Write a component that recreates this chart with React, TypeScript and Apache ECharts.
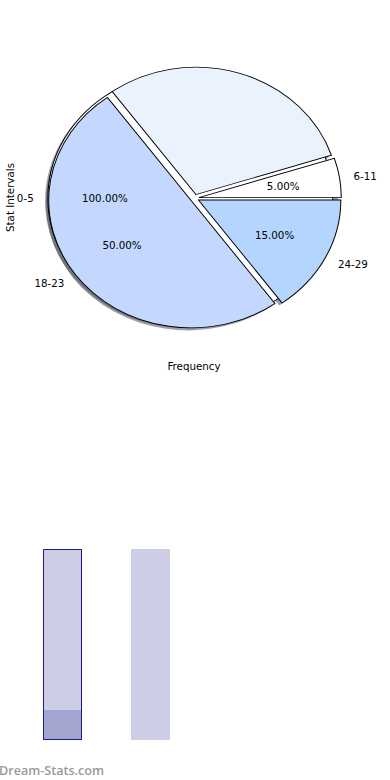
import React, { useEffect, useRef } from 'react';
import * as echarts from 'echarts';

// ---- data ----
const baseCategories = ['0-5'];
const baseValues = [100];
const pieCategories = ['6-11', '12-17', '18-23', '24-29'];
const pieValues = [5, 30, 50, 15];
const pieShowLabel = [true, false, true, true];

const barCategories = ['A', 'B'];
const barLower = [16, 0];
const barUpper = [84, 100];
const barOutline: (number | null)[] = [100, null];

const xAxisLabel = 'Frequency';
const yAxisLabel = 'Stat Intervals';
const watermark = 'Dream-Stats.com';

// ---- styles / geometry ----
const baseColors = ['#ffffff'];
const sliceColors = ['#ffffff', '#eaf2fe', '#c4d8ff', '#b4d5fe'];
const D2R = Math.PI / 180;
const CX = 194.6;
const CY = 198.2;
const RX = 142.4;
const RY = 127.4;
const EXPLODE = 0.03;
const LABEL_DIST = 1.1;
const PCT_DIST = 0.6;
const SHADOW_OFF = 0.02;
const FONT = '10.3px "DejaVu Sans"';

type Wedge = { label: string; pct: string; t1: number; t2: number; color: string };

function buildWedges(labels: string[], values: number[], colors: string[], show: boolean[]): Wedge[] {
  const total = values.reduce((a, b) => a + b, 0);
  let acc = 0;
  return values.map((v, i) => {
    const t1 = (acc / total) * 360;
    acc += v;
    const t2 = (acc / total) * 360;
    return {
      label: show[i] ? labels[i] : '',
      pct: show[i] ? ((v / total) * 100).toFixed(2) + '%' : '',
      t1,
      t2,
      color: colors[i],
    };
  });
}

const wedges: Wedge[] = [
  ...buildWedges(baseCategories, baseValues, baseColors, [true]),
  ...buildWedges(pieCategories, pieValues, sliceColors, pieShowLabel),
];

function shade(hex: string): string {
  const h = hex.replace('#', '');
  const r = parseInt(h.slice(0, 2), 16) * 0.3;
  const g = parseInt(h.slice(2, 4), 16) * 0.3;
  const b = parseInt(h.slice(4, 6), 16) * 0.3;
  return `rgba(${r.toFixed(0)},${g.toFixed(0)},${b.toFixed(0)},0.5)`;
}

function wedgeEl(w: Wedge, ox: number, oy: number, style: any) {
  const m = ((w.t1 + w.t2) / 2) * D2R;
  const dx = EXPLODE * RX * Math.cos(m) + ox;
  const dy = -EXPLODE * RY * Math.sin(m) + oy;
  return {
    type: 'group',
    x: CX + dx,
    y: CY + dy,
    scaleX: RX / RY,
    scaleY: 1,
    children: [
      {
        type: 'sector',
        shape: {
          cx: 0,
          cy: 0,
          r: RY,
          r0: 0,
          startAngle: -w.t2 * D2R,
          endAngle: -w.t1 * D2R,
          clockwise: true,
        },
        style,
      },
    ],
  };
}

export default function App() {
  const ref = useRef<HTMLDivElement>(null);
  useEffect(() => {
    if (!ref.current) return;
    const chart = echarts.init(ref.current, undefined, { renderer: 'svg' });
    const idx = wedges.map((w) => w.t2 - w.t1);
    chart.setOption({
      animation: false,
      backgroundColor: '#ffffff',
      grid: { left: 18.5, width: 176, top: 549, height: 191 },
      xAxis: { type: 'category', data: barCategories, show: false },
      yAxis: { type: 'value', min: 0, max: 100, show: false },
      graphic: [
        {
          type: 'text',
          x: 194,
          y: 366,
          style: { text: xAxisLabel, fill: '#000', font: FONT, align: 'center', verticalAlign: 'middle' },
        },
        {
          type: 'text',
          x: 10,
          y: 197.5,
          rotation: Math.PI / 2,
          style: { text: yAxisLabel, fill: '#000', font: FONT, align: 'center', verticalAlign: 'middle' },
        },
        {
          type: 'text',
          x: -1,
          y: 770,
          style: {
            text: watermark,
            fill: '#9a9a9a',
            font: '600 12.6px "Open Sans"',
            align: 'left',
            verticalAlign: 'middle',
          },
        },
      ],
      series: [
        {
          type: 'custom',
          coordinateSystem: 'none',
          silent: true,
          z: 1,
          data: idx,
          renderItem: (params: any) => {
            const w = wedges[params.dataIndex];
            return wedgeEl(w, -SHADOW_OFF * RX, SHADOW_OFF * RY, { fill: shade(w.color) });
          },
        },
        {
          type: 'custom',
          coordinateSystem: 'none',
          silent: true,
          z: 2,
          data: idx,
          renderItem: (params: any) => {
            const w = wedges[params.dataIndex];
            return wedgeEl(w, 0, 0, { fill: w.color, stroke: '#000', lineWidth: 0.9, strokeNoScale: true });
          },
        },
        {
          type: 'custom',
          coordinateSystem: 'none',
          silent: true,
          z: 3,
          data: idx,
          renderItem: (params: any) => {
            const w = wedges[params.dataIndex];
            const m = ((w.t1 + w.t2) / 2) * D2R;
            const c = Math.cos(m);
            const s = Math.sin(m);
            const bx = CX + EXPLODE * RX * c;
            const by = CY - EXPLODE * RY * s;
            const children: any[] = [];
            if (w.label) {
              children.push({
                type: 'text',
                x: bx + LABEL_DIST * RX * c,
                y: by - LABEL_DIST * RY * s,
                style: { text: w.label, fill: '#000', font: FONT, align: c > 0 ? 'left' : 'right', verticalAlign: 'middle' },
              });
            }
            if (w.pct) {
              children.push({
                type: 'text',
                x: bx + PCT_DIST * RX * c,
                y: by - PCT_DIST * RY * s,
                style: { text: w.pct, fill: '#000', font: FONT, align: 'center', verticalAlign: 'middle' },
              });
            }
            return { type: 'group', children };
          },
        },
        {
          type: 'bar',
          stack: 'b',
          barWidth: 39,
          barGap: '-100%',
          silent: true,
          data: barLower,
          itemStyle: { color: '#a5a5d2' },
        },
        {
          type: 'bar',
          stack: 'b',
          barWidth: 39,
          barGap: '-100%',
          silent: true,
          data: barUpper,
          itemStyle: { color: '#cdcde6' },
        },
        {
          type: 'bar',
          barWidth: 39,
          barGap: '-100%',
          silent: true,
          z: 5,
          data: barOutline,
          itemStyle: { color: 'rgba(0,0,0,0)', borderColor: '#1a1a8e', borderWidth: 1 },
        },
      ],
    });
    return () => chart.dispose();
  }, []);
  return <div ref={ref} style={{ position: 'fixed', left: 0, top: 0, width: 390, height: 780 }} />;
}
